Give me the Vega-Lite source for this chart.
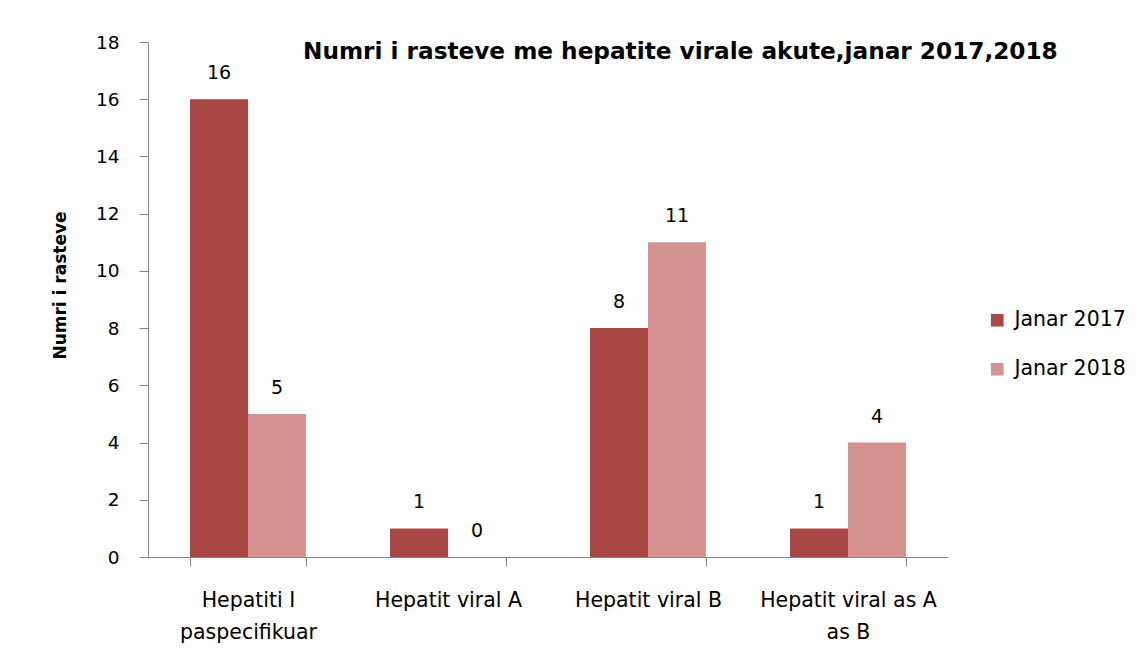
{
  "$schema": "https://vega.github.io/schema/vega-lite/v6.json",
  "width": 800,
  "height": 515,
  "autosize": "none",
  "padding": {"left": 148, "top": 42, "right": 200, "bottom": 114},
  "background": "white",
  "data": {
    "values": [
      {"kategoria": "Hepatiti  I paspecifikuar", "viti": "Janar 2017", "rastet": 16},
      {"kategoria": "Hepatiti  I paspecifikuar", "viti": "Janar  2018", "rastet": 5},
      {"kategoria": "Hepatit viral A", "viti": "Janar 2017", "rastet": 1},
      {"kategoria": "Hepatit viral A", "viti": "Janar  2018", "rastet": 0},
      {"kategoria": "Hepatit viral B", "viti": "Janar 2017", "rastet": 8},
      {"kategoria": "Hepatit viral B", "viti": "Janar  2018", "rastet": 11},
      {"kategoria": "Hepatit viral as A as B", "viti": "Janar 2017", "rastet": 1},
      {"kategoria": "Hepatit viral as A as B", "viti": "Janar  2018", "rastet": 4}
    ]
  },
  "title": {
    "text": "Numri i rasteve me hepatite virale akute,janar  2017,2018",
    "anchor": "start",
    "frame": "group",
    "dx": 155,
    "dy": 35,
    "font": "DejaVu Sans",
    "fontSize": 23.2,
    "fontWeight": "bold",
    "color": "#000000"
  },
  "encoding": {
    "x": {
      "field": "kategoria",
      "type": "nominal",
      "sort": null,
      "scale": {"paddingInner": 0.42, "paddingOuter": 0.21},
      "axis": {
        "title": null,
        "labelAngle": 0,
        "tickBand": "extent",
        "labelExpr": "datum.label == 'Hepatiti  I paspecifikuar' ? ['Hepatiti  I', 'paspecifikuar'] : datum.label == 'Hepatit viral as A as B' ? ['Hepatit viral as A', 'as B'] : datum.label",
        "labelFont": "DejaVu Sans",
        "labelFontSize": 20.5,
        "labelColor": "#000000",
        "labelPadding": 24,
        "labelLineHeight": 32,
        "labelBaseline": "top",
        "domainColor": "#868686",
        "tickColor": "#868686",
        "tickSize": 9
      }
    },
    "xOffset": {"field": "viti", "type": "nominal", "sort": ["Janar 2017", "Janar  2018"]},
    "y": {
      "field": "rastet",
      "type": "quantitative",
      "scale": {"domain": [0, 18], "nice": false},
      "axis": {
        "title": "Numri i rasteve",
        "titleFont": "DejaVu Sans",
        "titleFontSize": 17,
        "titleFontWeight": "bold",
        "titleColor": "#000000",
        "titleX": -88,
        "titleY": 243,
        "titleBaseline": "middle",
        "values": [0, 2, 4, 6, 8, 10, 12, 14, 16, 18],
        "grid": false,
        "labelFont": "DejaVu Sans",
        "labelFontSize": 18.5,
        "labelColor": "#000000",
        "labelPadding": 20,
        "domainColor": "#868686",
        "tickColor": "#868686",
        "tickSize": 9
      }
    }
  },
  "layer": [
    {
      "mark": {"type": "bar"},
      "encoding": {
        "color": {
          "field": "viti",
          "type": "nominal",
          "sort": ["Janar 2017", "Janar  2018"],
          "scale": {"domain": ["Janar 2017", "Janar  2018"], "range": ["#A94744", "#D49391"]},
          "legend": {
            "title": null,
            "orient": "none",
            "legendX": 839,
            "legendY": 268,
            "symbolType": "square",
            "symbolSize": 160,
            "symbolStrokeWidth": 0,
            "labelFont": "DejaVu Sans",
            "labelFontSize": 20.5,
            "labelColor": "#000000",
            "rowPadding": 28,
            "labelOffset": 7
          }
        }
      }
    },
    {
      "mark": {"type": "text", "baseline": "bottom", "dy": -16, "font": "DejaVu Sans", "fontSize": 19, "color": "#000000"},
      "encoding": {
        "text": {"field": "rastet", "type": "quantitative"}
      }
    }
  ],
  "config": {"view": {"stroke": null}}
}
